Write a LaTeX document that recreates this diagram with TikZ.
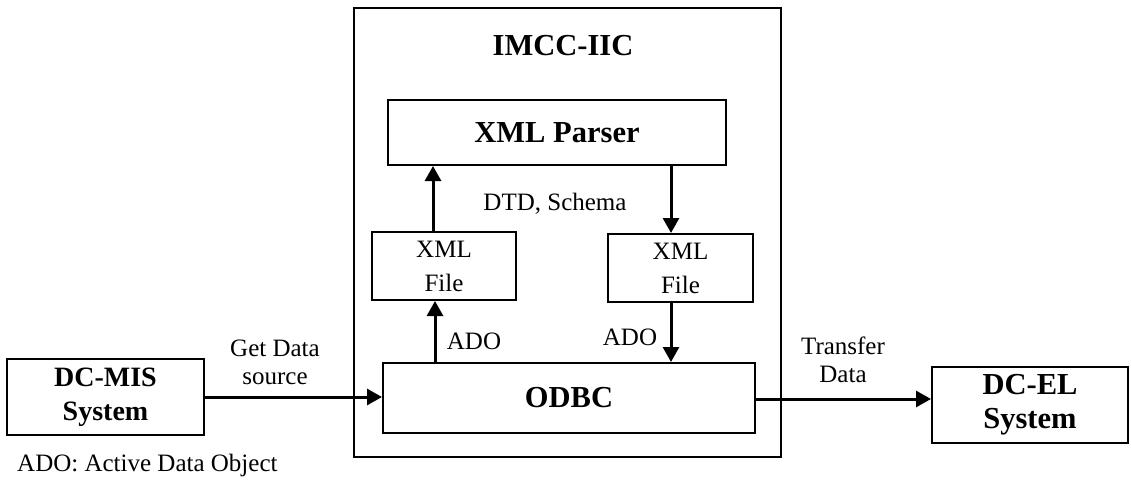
\documentclass[tikz,border=0pt]{standalone}
\usepackage{fontspec}
\setmainfont{Liberation Serif}
\usetikzlibrary{arrows.meta}
\begin{document}
\begin{tikzpicture}[x=1pt,y=-1pt,
  box/.style={draw,line width=2pt,rectangle,inner sep=0pt,align=center},
  bigbox/.style={box,font=\fontsize{30.5}{34}\selectfont\bfseries},
  filebox/.style={box,font=\fontsize{25}{34}\selectfont},
  lbl/.style={align=center,inner sep=0pt,font=\fontsize{25}{28}\selectfont},
  arr/.style={line width=3pt,-{Triangle[length=15pt,width=16pt]}}]
\useasboundingbox (0,0) rectangle (1131,481);

% outer IIC frame and its title
\node[box,minimum width=427pt,minimum height=449pt] (imcc) at (567.5,232.5) {};
\node[lbl,font=\fontsize{30.5}{33}\selectfont\bfseries] (title) at (563,46) {IMCC-IIC};

% blocks
\node[bigbox,minimum width=197pt,minimum height=76pt,font=\fontsize{28}{34}\selectfont\bfseries] (dcmis) at (105.5,397) {DC-MIS\\System};
\node[bigbox,minimum width=338pt,minimum height=65pt] (parser) at (557,132.5) {XML Parser};
\node[filebox,minimum width=144pt,minimum height=68pt] (xml1) at (444,266) {XML\\File};
\node[filebox,minimum width=145pt,minimum height=68pt] (xml2) at (680.5,268) {XML\\File};
\node[bigbox,minimum width=372pt,minimum height=70pt] (odbc) at (569,398) {ODBC};
\node[bigbox,minimum width=196pt,minimum height=76pt] (dcel) at (1030,405) {DC-EL\\System};

% vertical connector positions
\coordinate (ua) at (435,0);
\coordinate (ub) at (433,0);
\coordinate (dc) at (671,0);
\coordinate (dr) at (0,399);

% connectors
\draw[arr] (dcmis.east) -- (dcmis.east -| odbc.west);
\draw[arr] (odbc.east |- dr) -- (dcel.west |- dr);
\draw[arr] (odbc.north -| ua) -- (xml1.south -| ua);
\draw[arr] (xml1.north -| ub) -- (parser.south -| ub);
\draw[arr] (parser.south -| dc) -- (xml2.north -| dc);
\draw[arr] (xml2.south -| dc) -- (odbc.north -| dc);

% labels
\node[lbl] (getdata) at (275,362) {Get Data\\source};
\node[lbl] (transfer) at (843,360) {Transfer\\Data};
\node[lbl] (dtd) at (555,204) {DTD, Schema};
\node[lbl] (ado1) at (474,341) {ADO};
\node[lbl] (ado2) at (630,337) {ADO};
\node[lbl,anchor=west] (legend) at (17,465) {ADO: Active Data Object};
\end{tikzpicture}
\end{document}
